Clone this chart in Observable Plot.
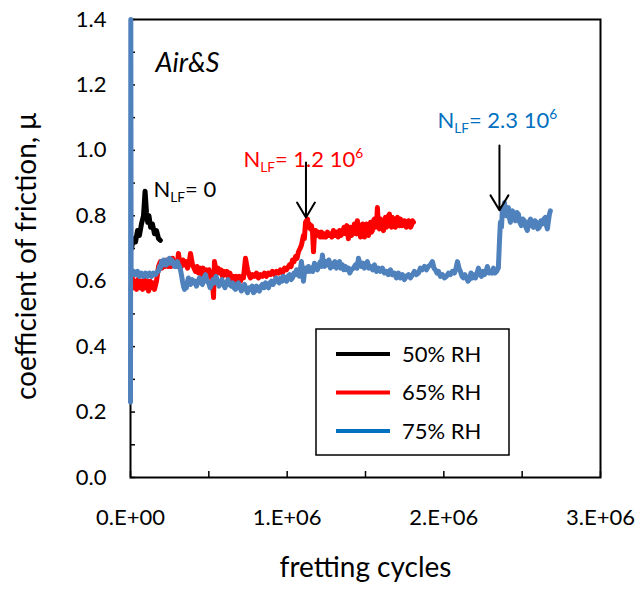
<!DOCTYPE html>
<html><head><meta charset="utf-8">
<script src="https://cdn.jsdelivr.net/npm/d3@7"></script>
<script src="https://cdn.jsdelivr.net/npm/@observablehq/plot@0.6"></script>
<style>
body{margin:0;background:#fff;}
#chart svg{display:block;}
</style>
</head><body><div id="chart"></div>
<script>
// x values in millions of fretting cycles, y = coefficient of friction
const rh50 = [[0.006,0.70],[0.019,0.73],[0.032,0.72],[0.045,0.755],[0.057,0.74],[0.070,0.775],[0.083,0.80],[0.093,0.875],[0.102,0.81],[0.110,0.78],[0.118,0.80],[0.128,0.765],[0.140,0.775],[0.153,0.745],[0.166,0.755],[0.179,0.73],[0.191,0.725]];

const rh65 = [[0.003,0.575],[0.012,0.61],[0.019,0.58],[0.028,0.60],[0.038,0.575],[0.047,0.605],[0.057,0.58],[0.067,0.60],[0.077,0.575],[0.086,0.605],[0.096,0.58],[0.106,0.60],[0.115,0.57],[0.125,0.60],[0.134,0.58],[0.144,0.595],[0.153,0.575],[0.166,0.60],[0.179,0.645],[0.191,0.66],[0.201,0.64],[0.211,0.655],[0.220,0.645],[0.230,0.665],[0.240,0.645],[0.249,0.66],[0.258,0.645],[0.268,0.67],[0.278,0.65],[0.287,0.66],[0.297,0.645],[0.306,0.685],[0.315,0.655],[0.325,0.645],[0.335,0.665],[0.345,0.65],[0.354,0.66],[0.364,0.64],[0.374,0.655],[0.383,0.685],[0.396,0.65],[0.405,0.64],[0.415,0.63],[0.425,0.645],[0.434,0.625],[0.444,0.64],[0.453,0.62],[0.463,0.64],[0.472,0.625],[0.482,0.635],[0.491,0.615],[0.501,0.635],[0.511,0.62],[0.523,0.60],[0.530,0.55],[0.536,0.66],[0.549,0.625],[0.558,0.64],[0.568,0.625],[0.577,0.635],[0.587,0.615],[0.596,0.63],[0.606,0.62],[0.616,0.63],[0.625,0.61],[0.635,0.625],[0.645,0.605],[0.654,0.615],[0.664,0.60],[0.674,0.615],[0.683,0.60],[0.693,0.615],[0.702,0.60],[0.712,0.615],[0.721,0.61],[0.734,0.67],[0.747,0.635],[0.757,0.62],[0.766,0.61],[0.779,0.62],[0.791,0.615],[0.804,0.625],[0.817,0.61],[0.830,0.62],[0.842,0.615],[0.855,0.625],[0.868,0.615],[0.880,0.625],[0.893,0.62],[0.906,0.63],[0.919,0.62],[0.932,0.63],[0.944,0.625],[0.957,0.635],[0.970,0.625],[0.983,0.64],[0.996,0.635],[1.015,0.65],[1.025,0.645],[1.034,0.665],[1.044,0.66],[1.053,0.675],[1.063,0.67],[1.072,0.69],[1.082,0.70],[1.091,0.71],[1.104,0.74],[1.110,0.73],[1.117,0.78],[1.130,0.79],[1.136,0.765],[1.142,0.775],[1.149,0.76],[1.155,0.77],[1.162,0.75],[1.168,0.69],[1.174,0.74],[1.181,0.755],[1.190,0.74],[1.200,0.75],[1.210,0.735],[1.219,0.75],[1.228,0.735],[1.238,0.745],[1.247,0.735],[1.257,0.75],[1.266,0.74],[1.276,0.745],[1.285,0.735],[1.295,0.755],[1.305,0.74],[1.315,0.75],[1.325,0.735],[1.334,0.755],[1.344,0.74],[1.353,0.75],[1.363,0.765],[1.372,0.745],[1.381,0.77],[1.391,0.73],[1.398,0.755],[1.404,0.765],[1.411,0.74],[1.417,0.76],[1.423,0.745],[1.429,0.775],[1.436,0.75],[1.442,0.745],[1.448,0.785],[1.455,0.76],[1.461,0.75],[1.468,0.735],[1.474,0.765],[1.481,0.775],[1.487,0.75],[1.493,0.735],[1.500,0.76],[1.506,0.775],[1.512,0.745],[1.519,0.74],[1.525,0.77],[1.532,0.78],[1.538,0.75],[1.544,0.755],[1.551,0.785],[1.557,0.79],[1.563,0.765],[1.570,0.77],[1.576,0.825],[1.582,0.775],[1.589,0.76],[1.595,0.79],[1.602,0.785],[1.608,0.76],[1.615,0.755],[1.621,0.785],[1.627,0.795],[1.634,0.765],[1.640,0.77],[1.646,0.80],[1.653,0.805],[1.659,0.775],[1.666,0.765],[1.672,0.795],[1.678,0.79],[1.685,0.77],[1.691,0.765],[1.697,0.79],[1.704,0.795],[1.710,0.775],[1.717,0.77],[1.723,0.79],[1.729,0.785],[1.736,0.77],[1.742,0.775],[1.748,0.785],[1.755,0.78],[1.761,0.765],[1.768,0.775],[1.774,0.785],[1.780,0.775],[1.787,0.765],[1.793,0.77],[1.800,0.785],[1.806,0.78]];

const rh75 = [[0,0.23],[0.002,1.40],[0.004,0.64],[0.012,0.62],[0.022,0.63],[0.032,0.62],[0.045,0.63],[0.057,0.615],[0.070,0.625],[0.083,0.615],[0.096,0.625],[0.109,0.615],[0.121,0.625],[0.134,0.615],[0.147,0.625],[0.160,0.62],[0.172,0.63],[0.179,0.63],[0.185,0.645],[0.191,0.64],[0.198,0.66],[0.204,0.65],[0.211,0.665],[0.217,0.65],[0.224,0.66],[0.230,0.65],[0.236,0.665],[0.243,0.655],[0.249,0.67],[0.255,0.655],[0.262,0.665],[0.268,0.655],[0.274,0.66],[0.281,0.645],[0.287,0.655],[0.294,0.645],[0.300,0.66],[0.306,0.65],[0.313,0.645],[0.319,0.635],[0.325,0.62],[0.332,0.60],[0.338,0.585],[0.345,0.575],[0.351,0.59],[0.357,0.58],[0.364,0.60],[0.370,0.61],[0.377,0.595],[0.383,0.59],[0.393,0.605],[0.402,0.595],[0.412,0.60],[0.421,0.585],[0.431,0.60],[0.440,0.61],[0.450,0.595],[0.459,0.59],[0.469,0.61],[0.479,0.62],[0.488,0.60],[0.498,0.595],[0.508,0.58],[0.517,0.59],[0.527,0.605],[0.536,0.595],[0.546,0.615],[0.555,0.60],[0.565,0.585],[0.574,0.595],[0.584,0.605],[0.593,0.59],[0.603,0.58],[0.613,0.595],[0.622,0.605],[0.632,0.59],[0.642,0.585],[0.651,0.595],[0.661,0.58],[0.670,0.575],[0.680,0.59],[0.689,0.595],[0.699,0.58],[0.708,0.57],[0.718,0.585],[0.728,0.59],[0.737,0.575],[0.747,0.565],[0.757,0.58],[0.766,0.575],[0.776,0.585],[0.785,0.565],[0.795,0.57],[0.804,0.585],[0.814,0.575],[0.823,0.57],[0.833,0.585],[0.842,0.59],[0.852,0.58],[0.862,0.595],[0.871,0.585],[0.881,0.58],[0.890,0.595],[0.900,0.60],[0.910,0.59],[0.919,0.60],[0.929,0.61],[0.938,0.60],[0.948,0.595],[0.957,0.61],[0.967,0.60],[0.976,0.615],[0.986,0.605],[0.996,0.60],[1.005,0.615],[1.015,0.62],[1.025,0.605],[1.034,0.61],[1.044,0.625],[1.053,0.62],[1.060,0.635],[1.066,0.62],[1.072,0.63],[1.078,0.615],[1.085,0.64],[1.091,0.66],[1.097,0.63],[1.104,0.60],[1.110,0.625],[1.117,0.64],[1.126,0.63],[1.136,0.645],[1.145,0.63],[1.155,0.64],[1.164,0.63],[1.174,0.655],[1.183,0.64],[1.193,0.635],[1.202,0.65],[1.212,0.66],[1.218,0.645],[1.225,0.68],[1.231,0.655],[1.238,0.645],[1.248,0.66],[1.257,0.65],[1.266,0.665],[1.276,0.64],[1.285,0.655],[1.295,0.645],[1.305,0.66],[1.315,0.64],[1.324,0.65],[1.334,0.66],[1.343,0.64],[1.353,0.65],[1.362,0.635],[1.372,0.645],[1.381,0.635],[1.391,0.64],[1.400,0.625],[1.410,0.635],[1.423,0.64],[1.436,0.65],[1.446,0.64],[1.455,0.67],[1.464,0.655],[1.474,0.645],[1.484,0.655],[1.493,0.64],[1.503,0.65],[1.512,0.66],[1.522,0.64],[1.532,0.645],[1.545,0.635],[1.557,0.65],[1.570,0.63],[1.583,0.64],[1.595,0.63],[1.608,0.64],[1.621,0.625],[1.634,0.63],[1.646,0.62],[1.659,0.635],[1.672,0.62],[1.685,0.625],[1.697,0.61],[1.710,0.625],[1.723,0.61],[1.736,0.62],[1.748,0.605],[1.761,0.615],[1.774,0.62],[1.787,0.61],[1.800,0.62],[1.812,0.63],[1.825,0.62],[1.838,0.625],[1.850,0.64],[1.863,0.635],[1.876,0.645],[1.889,0.635],[1.901,0.645],[1.914,0.65],[1.927,0.66],[1.937,0.64],[1.946,0.635],[1.956,0.625],[1.966,0.63],[1.978,0.615],[1.991,0.62],[2.004,0.61],[2.017,0.615],[2.030,0.625],[2.042,0.62],[2.055,0.63],[2.068,0.625],[2.078,0.64],[2.087,0.66],[2.097,0.64],[2.106,0.63],[2.116,0.615],[2.125,0.61],[2.135,0.62],[2.144,0.61],[2.154,0.60],[2.163,0.605],[2.173,0.625],[2.183,0.61],[2.192,0.62],[2.202,0.61],[2.212,0.625],[2.221,0.64],[2.231,0.62],[2.240,0.615],[2.250,0.63],[2.259,0.62],[2.269,0.63],[2.278,0.645],[2.288,0.625],[2.297,0.63],[2.307,0.625],[2.317,0.64],[2.326,0.625],[2.336,0.63],[2.348,0.64],[2.355,0.72],[2.361,0.78],[2.368,0.765],[2.374,0.82],[2.380,0.81],[2.387,0.84],[2.393,0.81],[2.399,0.80],[2.406,0.82],[2.412,0.825],[2.418,0.795],[2.425,0.78],[2.431,0.805],[2.438,0.815],[2.447,0.79],[2.457,0.785],[2.466,0.81],[2.476,0.805],[2.485,0.78],[2.495,0.77],[2.504,0.79],[2.514,0.785],[2.524,0.765],[2.533,0.755],[2.543,0.78],[2.553,0.79],[2.562,0.77],[2.572,0.765],[2.581,0.785],[2.591,0.78],[2.600,0.76],[2.610,0.765],[2.620,0.785],[2.629,0.775],[2.639,0.79],[2.648,0.795],[2.655,0.77],[2.661,0.76],[2.668,0.785],[2.674,0.805],[2.680,0.815]];

const seriesNames = ["50% RH", "65% RH", "75% RH"];
const seriesColors = ["#000000", "#ff0000", "#4f81bd"];
const legendColors = ["#000000", "#ff0000", "#0070c0"];

const xTickValues = [0, 1e6, 2e6, 3e6];
const xTickLabels = ["0.E+00", "1.E+06", "2.E+06", "3.E+06"];
const xMinorTicks = [0, 0.5e6, 1e6, 1.5e6, 2e6, 2.5e6, 3e6];
const yTickValues = [0, 0.2, 0.4, 0.6, 0.8, 1.0, 1.2, 1.4];
const yMinorTicks = [0, 0.1, 0.2, 0.3, 0.4, 0.5, 0.6, 0.7, 0.8, 0.9, 1.0, 1.1, 1.2, 1.3, 1.4];

const xTitle = "fretting cycles";
const yTitle = "coefficient of friction, μ";
const panelLabel = "Air&S";

const annTexts = ["N_LF= 0", "N_LF= 1.2 10^6", "N_LF= 2.3 10^6"];
const annX = [0.147e6, 0.721e6, 1.959e6];
const annY = [0.856, 0.948, 1.067];
const annColors = ["#000000", "#ff0000", "#0070c0"];

const arrowX = [1.12e6, 2.355e6];
const arrowFrom = [0.963, 1.015];
const arrowTo = [0.795, 0.817];

// Build tables
const order = [1, 0, 2];
const table = order.flatMap(i => [rh50, rh65, rh75][i].map(([m, mu]) => ({series: seriesNames[i], cycles: m * 1e6, mu})));
const annTable = annTexts.map((t, i) => ({t, x: annX[i], y: annY[i], c: annColors[i]}));
const arrowTable = arrowX.map((x, i) => ({x, y1: arrowFrom[i], y2: arrowTo[i]}));

const FONT = "Lato, 'Open Sans', sans-serif";

const chart = Plot.plot({
  width: 638,
  height: 593,
  marginLeft: 130,
  marginRight: 38,
  marginTop: 19,
  marginBottom: 116,
  style: {fontFamily: FONT, background: "#fff", color: "#000"},
  x: {domain: [0, 3e6], label: null},
  y: {domain: [0, 1.4], label: null},
  color: {domain: seriesNames, range: seriesColors},
  marks: [
    Plot.axisX(xMinorTicks, {tickSize: -6, tickFormat: () => "", label: null, strokeWidth: 1.5}),
    Plot.axisX(xTickValues, {tickSize: 0, tickPadding: 32, tickFormat: (d) => xTickLabels[xTickValues.indexOf(d)], fontSize: 22, label: null}),
    Plot.axisY(yMinorTicks, {tickSize: -5, tickFormat: () => "", label: null, strokeWidth: 1.5}),
    Plot.axisY(yTickValues, {tickSize: 0, tickPadding: 24, tickFormat: d3.format(".1f"), fontSize: 22, label: null}),
    Plot.frame({stroke: "#000", strokeWidth: 2}),
    Plot.line(table, {x: "cycles", y: "mu", z: "series", stroke: "series", strokeWidth: 5, strokeLinejoin: "round"}),
    Plot.arrow(arrowTable, {x: "x", y1: "y1", y2: "y2", stroke: "#000", strokeWidth: 2, headLength: 13, headAngle: 62}),
    Plot.text(annTable, {x: "x", y: "y", text: "t", fill: "c", textAnchor: "start", lineAnchor: "bottom", fontSize: 22}),
    Plot.text([panelLabel], {x: [0.16e6], y: [1.239], textAnchor: "start", lineAnchor: "bottom", fontSize: 27, fontStyle: "italic"}),
    Plot.text([xTitle], {frameAnchor: "bottom", dy: 99, fontSize: 28}),
    Plot.text([yTitle], {frameAnchor: "left", textAnchor: "middle", rotate: -90, dx: -103, dy: 8, fontSize: 28})
  ]
});

document.getElementById("chart").appendChild(chart);

// rich text: subscripts and superscripts
const svgNS = "http://www.w3.org/2000/svg";
d3.select(chart).selectAll("text").each(function() {
  const s = this.textContent;
  const m = s.match(/^(.*?)_([A-Za-z]+)(.*?)(?:\^(\w+))?$/);
  if (!m || this.querySelector("tspan")) return;
  this.textContent = "";
  const add = (t, attrs = {}) => {
    const ts = document.createElementNS(svgNS, "tspan");
    ts.textContent = t;
    for (const k in attrs) ts.setAttribute(k, attrs[k]);
    this.appendChild(ts);
    return ts;
  };
  add(m[1]);
  add(m[2], {dy: 5, style: "font-size:62%"});
  add(m[3], {dy: -5});
  if (m[4]) add(m[4], {dy: -9, style: "font-size:62%"});
});

// legend
const svg = d3.select(chart);
const lg = svg.append("g").attr("font-family", FONT).attr("text-anchor", "start");
lg.append("rect").attr("x", 316).attr("y", 329).attr("width", 193).attr("height", 126)
  .attr("fill", "#fff").attr("stroke", "#000").attr("stroke-width", 1.5);
seriesNames.forEach((name, i) => {
  const yy = 354 + i * 38.5;
  lg.append("line").attr("x1", 336).attr("x2", 390).attr("y1", yy).attr("y2", yy)
    .attr("stroke", legendColors[i]).attr("stroke-width", 4);
  lg.append("text").attr("x", 402).attr("y", yy).attr("dy", "0.35em")
    .attr("text-anchor", "start").attr("font-size", 22).attr("fill", "#000").text(name);
});
</script>
</body></html>
